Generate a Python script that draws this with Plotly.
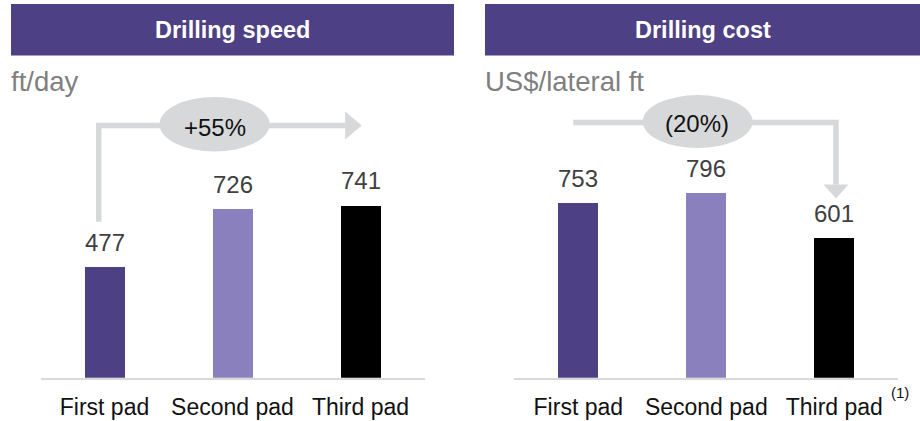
import plotly.graph_objects as go

# ---- data ----
categories = ["First pad", "Second pad", "Third pad"]
speed_values = [477, 726, 741]      # ft/day
cost_values = [753, 796, 601]       # US$/lateral ft
speed_change = "+55%"
cost_change = "(20%)"
panel_titles = ["Drilling speed", "Drilling cost"]
unit_labels = ["ft/day", "US$/lateral ft"]
footnote = "(1)"

# ---- style ----
W, H = 920, 421
PURPLE = "#4D4085"
LAVENDER = "#8B80BE"
BAR_COLORS = [PURPLE, LAVENDER, "#000000"]
ARROW_GREY = "#D7D8DA"
LABEL_GREY = "#404040"
UNIT_GREY = "#7F7F7F"
FONT = "Liberation Sans, Arial, sans-serif"

Y_MAX = 1628           # value range shown over the plot height
Y_DOMAIN = [1 - 377.7 / H, 1.0]
X_DOMAINS = [[40.5 / W, 424.5 / W], [514.3 / W, 898.3 / W]]
BAR_WIDTH = 0.32

x_pos = list(range(len(categories)))

fig = go.Figure()

for k, values in enumerate([speed_values, cost_values]):
    xa = "x" if k == 0 else "x2"
    ya = "y" if k == 0 else "y2"
    fig.add_trace(go.Bar(
        x=x_pos, y=values, width=BAR_WIDTH,
        marker=dict(color=BAR_COLORS, line=dict(width=0)),
        xaxis=xa, yaxis=ya, showlegend=False, hoverinfo="x+y",
    ))
    # value labels above each bar
    for xi, v in zip(x_pos, values):
        fig.add_annotation(
            x=xi, y=v, xref=xa, yref=ya, text=str(v), showarrow=False,
            yanchor="middle", yshift=25,
            font=dict(family=FONT, size=24, color=LABEL_GREY),
        )

axis_common = dict(
    range=[-0.5, 2.5], tickmode="array", tickvals=x_pos, ticktext=categories,
    showgrid=False, zeroline=False, showline=True, linecolor="#D9D9D9",
    linewidth=2, ticks="outside", ticklen=8, tickcolor="rgba(0,0,0,0)",
    tickfont=dict(family=FONT, size=23, color="#111111"), fixedrange=True,
)
yaxis_common = dict(range=[0, Y_MAX], domain=Y_DOMAIN, visible=False,
                    showgrid=False, zeroline=False, fixedrange=True)

fig.update_layout(
    width=W, height=H, margin=dict(l=0, r=0, t=0, b=0),
    paper_bgcolor="white", plot_bgcolor="rgba(0,0,0,0)",
    bargap=0,
    xaxis=dict(domain=X_DOMAINS[0], anchor="y", **axis_common),
    xaxis2=dict(domain=X_DOMAINS[1], anchor="y2", **axis_common),
    yaxis=dict(anchor="x", **yaxis_common),
    yaxis2=dict(anchor="x2", **yaxis_common),
    font=dict(family=FONT),
)

# ---- panel headers ----
header_spans = [(11, 454), (485, 920)]
for (x0, x1), title in zip(header_spans, panel_titles):
    fig.add_shape(type="rect", xref="paper", yref="paper",
                  x0=x0 / W, x1=x1 / W, y0=1 - 55.5 / H, y1=1 - 4 / H,
                  fillcolor=PURPLE, line=dict(width=0), layer="below")
    fig.add_annotation(xref="paper", yref="paper", x=(x0 + x1) / 2 / W,
                       y=1 - 30 / H, text=f"<b>{title}</b>", showarrow=False,
                       xanchor="center", yanchor="middle",
                       font=dict(family=FONT, size=23.5, color="white"))

# unit captions
for x0, unit in zip([11, 485], unit_labels):
    fig.add_annotation(xref="paper", yref="paper", x=x0 / W - 0.002, y=1 - 82 / H,
                       text=unit, showarrow=False, xanchor="left",
                       yanchor="middle",
                       font=dict(family=FONT, size=27.5, color=UNIT_GREY))

# ---- change arrows ----
PX_Y = 0.232   # pixels per value unit
PX_X = 128.0   # pixels per category step
LW = 5.5

# speed: up from the first bar, across to the third
lvl = 1087
x_start, x_base, x_tip = -0.045, 1.88, 2.01
fig.add_shape(type="path", xref="x", yref="y",
              path=f"M {x_start} 672 L {x_start} {lvl} L {x_base} {lvl}",
              line=dict(color=ARROW_GREY, width=LW))
fig.add_shape(type="path", xref="x", yref="y", fillcolor=ARROW_GREY,
              line=dict(width=0),
              path=f"M {x_base} {lvl - 14 / PX_Y} L {x_tip} {lvl} "
                   f"L {x_base} {lvl + 14 / PX_Y} Z")
fig.add_shape(type="circle", xref="x", yref="y", x0=0.43, x1=1.29,
              y0=975, y1=1210, fillcolor=ARROW_GREY, line=dict(width=0))
fig.add_annotation(x=0.86, y=lvl, xref="x", yref="y", text=speed_change,
                   showarrow=False, yanchor="middle", yshift=-2,
                   font=dict(family=FONT, size=24, color="#111111"))

# cost: across from the first bar, down onto the third
lvl2 = 1100
x_start2, x_drop = -0.04, 2.013
y_base, y_tip = 833, 772
fig.add_shape(type="path", xref="x2", yref="y2",
              path=f"M {x_start2} {lvl2} L {x_drop} {lvl2} L {x_drop} {y_base}",
              line=dict(color=ARROW_GREY, width=LW))
fig.add_shape(type="path", xref="x2", yref="y2", fillcolor=ARROW_GREY,
              line=dict(width=0),
              path=f"M {x_drop - 12.5 / PX_X} {y_base} L {x_drop} {y_tip} "
                   f"L {x_drop + 12.5 / PX_X} {y_base} Z")
fig.add_shape(type="circle", xref="x2", yref="y2", x0=0.503, x1=1.362,
              y0=990, y1=1218, fillcolor=ARROW_GREY, line=dict(width=0))
fig.add_annotation(x=0.93, y=lvl2, xref="x2", yref="y2", text=cost_change,
                   showarrow=False, yanchor="middle", yshift=-1,
                   font=dict(family=FONT, size=24, color="#111111"))

# footnote marker on the last category
fig.add_annotation(xref="paper", yref="paper", x=900 / W, y=1 - 392 / H,
                   text=footnote, showarrow=False, xanchor="center",
                   yanchor="middle",
                   font=dict(family=FONT, size=15, color="#111111"))

fig.write_html("out.html")
